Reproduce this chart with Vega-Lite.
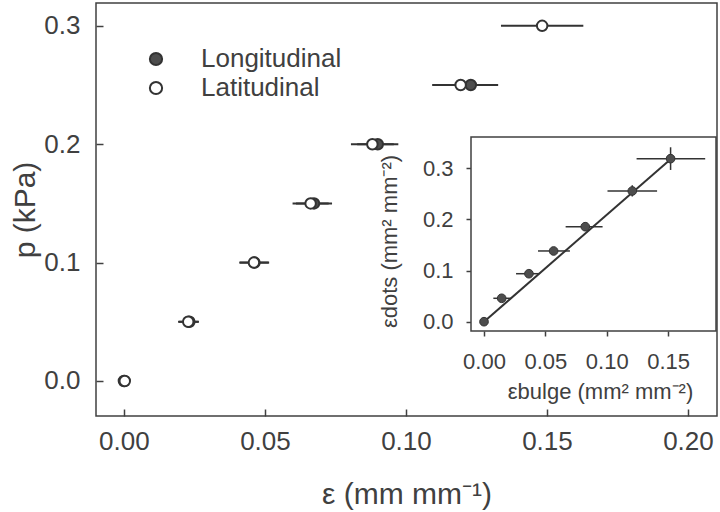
{
  "$schema": "https://vega.github.io/schema/vega-lite/v6.json",
  "width": 621,
  "height": 413,
  "autosize": "none",
  "padding": {"left": 96, "top": 3, "right": 3, "bottom": 96},
  "background": "white",
  "config": {
    "font": "Liberation Sans",
    "view": {"stroke": "#404040", "strokeWidth": 1.5},
    "axis": {
      "grid": false,
      "domain": false,
      "labelColor": "#404040",
      "titleColor": "#404040",
      "tickColor": "#404040",
      "tickWidth": 1.5,
      "labelFont": "Liberation Sans",
      "titleFont": "Liberation Sans",
      "titleFontWeight": "normal"
    }
  },
  "datasets": {
    "main": [
      {"series": "Longitudinal", "p": 0.0, "eps": 0.0, "lo": 0.0, "hi": 0.0},
      {"series": "Longitudinal", "p": 0.05, "eps": 0.0232, "lo": 0.0195, "hi": 0.0266},
      {"series": "Longitudinal", "p": 0.1, "eps": 0.0463, "lo": 0.0411, "hi": 0.0515},
      {"series": "Longitudinal", "p": 0.15, "eps": 0.0674, "lo": 0.061, "hi": 0.0738},
      {"series": "Longitudinal", "p": 0.2, "eps": 0.09, "lo": 0.0827, "hi": 0.0973},
      {"series": "Longitudinal", "p": 0.25, "eps": 0.123, "lo": 0.1133, "hi": 0.1327},
      {"series": "Latitudinal", "p": 0.0, "eps": 0.0003, "lo": 0.0003, "hi": 0.0003},
      {"series": "Latitudinal", "p": 0.05, "eps": 0.0228, "lo": 0.0192, "hi": 0.0264},
      {"series": "Latitudinal", "p": 0.1, "eps": 0.0461, "lo": 0.0409, "hi": 0.0513},
      {"series": "Latitudinal", "p": 0.15, "eps": 0.0662, "lo": 0.0598, "hi": 0.0726},
      {"series": "Latitudinal", "p": 0.2, "eps": 0.0881, "lo": 0.0805, "hi": 0.0957},
      {"series": "Latitudinal", "p": 0.25, "eps": 0.1194, "lo": 0.1093, "hi": 0.1295},
      {"series": "Latitudinal", "p": 0.3, "eps": 0.1483, "lo": 0.1337, "hi": 0.1629}
    ],
    "inset": [
      {"bulge": 0.0, "dots": 0.0, "bxlo": 0.0, "bxhi": 0.0, "dylo": 0.0, "dyhi": 0.0},
      {"bulge": 0.0144, "dots": 0.0458, "bxlo": 0.0076, "bxhi": 0.0218, "dylo": 0.04, "dyhi": 0.052},
      {"bulge": 0.0366, "dots": 0.0939, "bxlo": 0.0261, "bxhi": 0.0451, "dylo": 0.088, "dyhi": 0.1},
      {"bulge": 0.0567, "dots": 0.1384, "bxlo": 0.044, "bxhi": 0.07, "dylo": 0.131, "dyhi": 0.146},
      {"bulge": 0.0825, "dots": 0.1859, "bxlo": 0.0665, "bxhi": 0.0966, "dylo": 0.178, "dyhi": 0.194},
      {"bulge": 0.1208, "dots": 0.2558, "bxlo": 0.1006, "bxhi": 0.141, "dylo": 0.245, "dyhi": 0.267},
      {"bulge": 0.152, "dots": 0.319, "bxlo": 0.1243, "bxhi": 0.1802, "dylo": 0.2969, "dyhi": 0.3413}
    ],
    "fit": [
      {"bulge": 0.0, "dots": 0.0},
      {"bulge": 0.152, "dots": 0.318}
    ]
  },
  "layer": [
    {
      "data": {"name": "main"},
      "layer": [
        {
          "mark": {"type": "rule", "color": "#333333", "strokeWidth": 2},
          "encoding": {
            "x": {"field": "lo", "type": "quantitative",
              "scale": {"domain": [-0.0099, 0.2103], "nice": false, "zero": false},
              "axis": {"title": "ε (mm mm⁻¹)", "values": [0, 0.05, 0.1, 0.15, 0.2], "format": ".2f",
                "tickSize": -7, "labelPadding": 19, "labelFontSize": 26, "titleFontSize": 30, "titlePadding": 25}},
            "x2": {"field": "hi"},
            "y": {"field": "p", "type": "quantitative",
              "scale": {"domain": [-0.0296, 0.3193], "nice": false, "zero": false},
              "axis": {"title": "p (kPa)", "values": [0, 0.1, 0.2, 0.3], "format": ".1f",
                "tickSize": -7, "labelPadding": 23, "labelFontSize": 26, "titleFontSize": 30, "titlePadding": 3}}
          }
        },
        {
          "mark": {"type": "point", "filled": true, "stroke": "#333333", "strokeWidth": 2, "size": 110, "opacity": 1},
          "encoding": {
            "x": {"field": "eps", "type": "quantitative", "axis": {"title": "ε (mm mm⁻¹)"}},
            "y": {"field": "p", "type": "quantitative", "axis": {"title": "p (kPa)"}},
            "fill": {"field": "series", "type": "nominal",
              "scale": {"domain": ["Longitudinal", "Latitudinal"], "range": ["#4d4d4d", "#ffffff"]},
              "legend": {"title": null, "orient": "none", "legendX": 47, "legendY": 43,
                "labelFontSize": 26, "labelColor": "#404040", "labelFont": "Liberation Sans",
                "symbolSize": 150, "symbolStrokeWidth": 2, "symbolStrokeColor": "#333333",
                "labelOffset": 32, "rowPadding": 3, "symbolType": "circle"}}
          }
        }
      ]
    },
    {
      "layer": [
        {
          "data": {"values": [{}]},
          "mark": {"type": "rect", "fill": "white", "stroke": "#404040", "strokeWidth": 1.5},
          "encoding": {
            "x": {"datum": -0.0106, "type": "quantitative"},
            "x2": {"datum": 0.189},
            "y": {"datum": -0.0182, "type": "quantitative"},
            "y2": {"datum": 0.3614}
          }
        },
        {
          "data": {"name": "fit"},
          "mark": {"type": "line", "color": "#333333", "strokeWidth": 2},
          "encoding": {
            "x": {"field": "bulge", "type": "quantitative"},
            "y": {"field": "dots", "type": "quantitative"}
          }
        },
        {
          "data": {"name": "inset"},
          "mark": {"type": "rule", "color": "#333333", "strokeWidth": 1.5},
          "encoding": {
            "x": {"field": "bxlo", "type": "quantitative"},
            "x2": {"field": "bxhi"},
            "y": {"field": "dots", "type": "quantitative"}
          }
        },
        {
          "data": {"name": "inset"},
          "mark": {"type": "rule", "color": "#333333", "strokeWidth": 1.5},
          "encoding": {
            "x": {"field": "bulge", "type": "quantitative"},
            "y": {"field": "dylo", "type": "quantitative"},
            "y2": {"field": "dyhi"}
          }
        },
        {
          "data": {"name": "inset"},
          "mark": {"type": "point", "filled": true, "fill": "#4d4d4d", "stroke": "#333333", "strokeWidth": 1, "size": 75, "opacity": 1},
          "encoding": {
            "x": {"field": "bulge", "type": "quantitative",
              "scale": {"domain": [-0.0106, 0.189], "range": [375, 620], "nice": false, "zero": false},
              "axis": {"orient": "bottom", "offset": -85, "title": "εbulge (mm² mm⁻²)", "values": [0, 0.05, 0.1, 0.15], "format": ".2f",
                "tickSize": 5, "labelPadding": 15, "labelFontSize": 22, "titleFontSize": 22, "titlePadding": 9, "titleX": 504}},
            "y": {"field": "dots", "type": "quantitative",
              "scale": {"domain": [-0.0182, 0.3614], "range": [328, 134], "nice": false, "zero": false},
              "axis": {"orient": "left", "offset": -375, "title": "εdots (mm² mm⁻²)", "values": [0, 0.1, 0.2, 0.3], "format": ".1f",
                "tickSize": 5, "labelPadding": 13, "labelFontSize": 22, "titleFontSize": 22, "titlePadding": 21, "titleY": 238}}
          }
        }
      ]
    }
  ],
  "resolve": {"scale": {"x": "independent", "y": "independent", "fill": "independent"}, "axis": {"x": "independent", "y": "independent"}}
}
